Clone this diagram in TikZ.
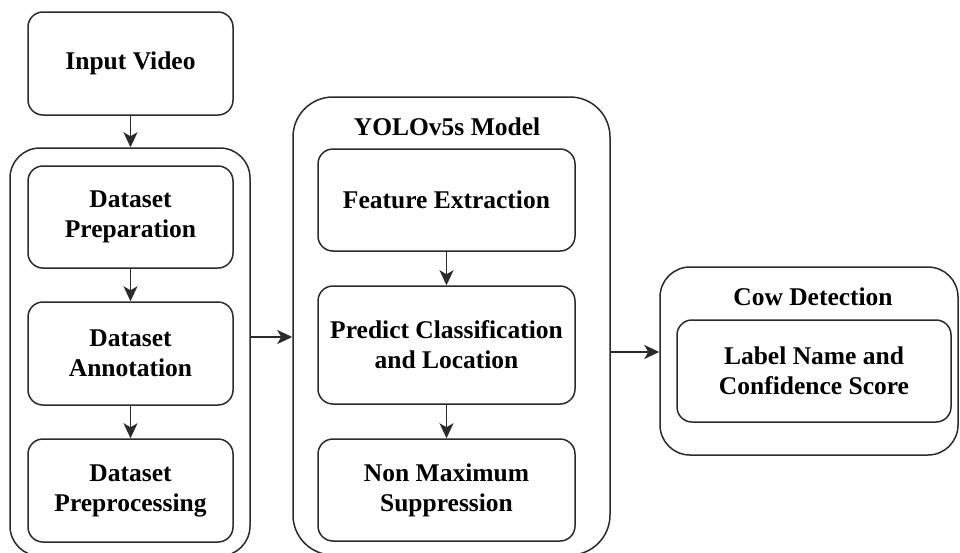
\documentclass[tikz,border=0pt]{standalone}
\usepackage{fontspec}
\setmainfont{Liberation Serif}
\usetikzlibrary{arrows.meta,calc}
\definecolor{edge}{HTML}{2B2B2B}
\tikzset{
  box/.style={draw=edge, line width=1.5pt, rounded corners=15pt, inner sep=0pt,
    align=center, font=\bfseries\fontsize{25.5}{30}\selectfont, text=black},
  container/.style={draw=edge, line width=1.5pt, inner sep=0pt},
  title/.style={inner sep=0pt, font=\bfseries\fontsize{25.5}{30}\selectfont, text=black},
  arr/.style={draw=edge, line width=1.5pt, -{Stealth[length=15pt,width=14pt,inset=4pt]}}
}
\begin{document}
\begin{tikzpicture}[x=1pt,y=-1pt]
\clip (0,0) rectangle (960,552);
\fill[white] (0,0) rectangle (960,552);
% containers
\node[container, rounded corners=30pt, minimum width=240pt, minimum height=408pt] (left) at (130,352) {};
\node[container, rounded corners=40pt, minimum width=317pt, minimum height=458pt] (yolo) at (451.5,326) {};
\node[container, rounded corners=30pt, minimum width=298pt, minimum height=188pt] (cow) at (809,361) {};
% titles
\node[title] (yolotitle) at (447,127) {YOLOv5s Model};
\node[title] (cowtitle) at (813,297) {Cow Detection};
% boxes
\node[box, minimum width=205pt, minimum height=103pt] (input) at (130.5,63.5) {Input Video};
\node[box, minimum width=205pt, minimum height=102pt] (prep) at (130.5,217) {Dataset\\Preparation};
\node[box, minimum width=205pt, minimum height=103pt] (annot) at (130.5,353.5) {Dataset\\Annotation};
\node[box, minimum width=205pt, minimum height=103pt] (preproc) at (130.5,490.5) {Dataset\\Preprocessing};
\node[box, minimum width=257pt, minimum height=102pt] (feat) at (446.5,200) {Feature Extraction};
\node[box, minimum width=257pt, minimum height=118pt] (pred) at (446.5,345) {Predict Classification\\and Location};
\node[box, minimum width=257pt, minimum height=102pt] (nms) at (446.5,490) {Non Maximum\\Suppression};
\node[box, minimum width=274pt, minimum height=102pt] (label) at (814,371) {Label Name and\\Confidence Score};
% connectors
\draw[arr] (input.south) -- (input.south |- left.north);
\draw[arr] (prep.south) -- (annot.north);
\draw[arr] (annot.south) -- (preproc.north);
\draw[arr] (feat.south) -- (pred.north);
\draw[arr] (pred.south) -- (nms.north);
\coordinate (lr) at ([yshift=15pt]left.east);
\draw[arr] (lr) -- (lr -| yolo.west);
\coordinate (cl) at ([yshift=9pt]cow.west);
\draw[arr] (cl -| yolo.east) -- (cl);
\end{tikzpicture}
\end{document}
